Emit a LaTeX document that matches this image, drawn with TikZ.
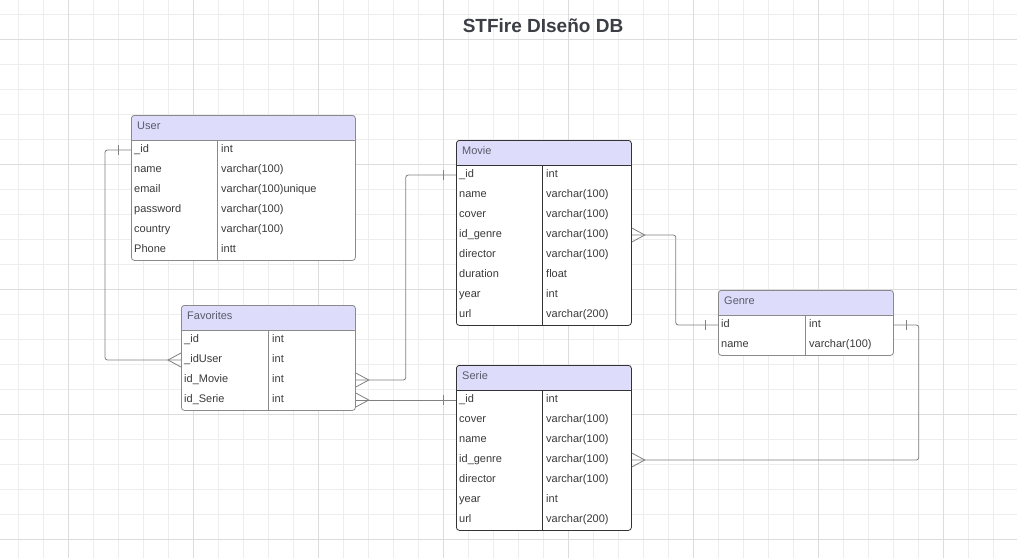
\documentclass[tikz,border=0pt]{standalone}
\usepackage{fontspec}
\setmainfont{Liberation Sans}
\usetikzlibrary{positioning,calc}
\definecolor{gridminor}{HTML}{EDEDED}
\definecolor{gridmajor}{HTML}{DCDCDC}
\definecolor{headbg}{HTML}{DDDDFB}
\definecolor{boxgray}{HTML}{8A8A8A}
\definecolor{boxdark}{HTML}{333333}
\definecolor{linkgray}{HTML}{808080}
\definecolor{fieldtxt}{HTML}{3A3A3A}
\definecolor{headtxt}{HTML}{5A5A6A}
\definecolor{titletxt}{HTML}{3B3E45}

\tikzset{
  tablebox/.style={anchor=north west, inner sep=0pt, rounded corners=3pt, line width=0.8pt, fill=white,
    path picture={\fill[headbg] (path picture bounding box.north west) rectangle ([yshift=-25pt]path picture bounding box.north east);}},
  field/.style={anchor=west, inner sep=0pt, text height=7.5pt, text depth=3.5pt,
    font=\fontsize{11}{13}\selectfont, text=fieldtxt},
  headtext/.style={field, text=headtxt},
  link/.style={draw=linkgray, line width=0.8pt, rounded corners=2.5pt},
  onebar/.pic={\draw[link] (-13,-5) -- (-13,5);},
  crowfoot/.pic={\draw[link, rounded corners=0pt] (0,-7) -- (-13,0) -- (0,7);}
}

\begin{document}
\begin{tikzpicture}[x=1pt, y=-1pt]
  \useasboundingbox (0,0) rectangle (1017,558);
  \fill[white] (0,0) rectangle (1017,558);

  % Background grid
  \foreach \gx in {18.3,43.3,...,1017} \draw[gridminor, line width=0.6pt] (\gx,0) -- (\gx,558);
  \foreach \gy in {14,39,...,558} \draw[gridminor, line width=0.6pt] (0,\gy) -- (1017,\gy);
  \foreach \gx in {68.3,193.3,...,1017} \draw[gridmajor, line width=0.6pt] (\gx,0) -- (\gx,558);
  \foreach \gy in {39,164,...,558} \draw[gridmajor, line width=0.6pt] (0,\gy) -- (1017,\gy);

  % Title
  \node[font=\fontsize{19}{22}\selectfont\bfseries, text=titletxt] (title) at (543,26) {STFire DIseño DB};

  % Table frames
  \foreach \tname/\tx/\ty/\tw/\tdiv/\trows/\tcol in
      {user/131/115/224/86/6/boxgray, fav/181/305/174/87/4/boxgray,
       movie/456/140/175/86/8/boxdark, genre/718/290/175/87/2/boxgray,
       serie/456/365/175/86/7/boxdark} {
    \node[tablebox, draw=\tcol, minimum width=\tw*1pt, minimum height=25pt+20pt*\trows] (\tname) at (\tx,\ty) {};
    \draw[\tcol, line width=0.8pt] (\tx,\ty+25) -- (\tx+\tw,\ty+25)
      (\tx+\tdiv,\ty+25) -- (\tx+\tdiv,\ty+25+20*\trows);
  }

  % User
  \node[headtext] (user-head) at (137,127) {User};
  \foreach \f/\t [count=\k] in {\_id/int, name/varchar(100), email/varchar(100)unique,
      password/varchar(100), country/varchar(100), Phone/intt} {
    \node[field] (user-\k) at (134,130+20*\k) {\f};
    \node[field] (user-t\k) at (221,130+20*\k) {\t};
  }

  % Favorites
  \node[headtext] (fav-head) at (187,317) {Favorites};
  \foreach \f/\t [count=\k] in {\_id/int, \_idUser/int, id\_Movie/int, id\_Serie/int} {
    \node[field] (fav-\k) at (184,320+20*\k) {\f};
    \node[field] (fav-t\k) at (272,320+20*\k) {\t};
  }

  % Movie
  \node[headtext] (movie-head) at (462,152) {Movie};
  \foreach \f/\t [count=\k] in {\_id/int, name/varchar(100), cover/varchar(100), id\_genre/varchar(100),
      director/varchar(100), duration/float, year/int, url/varchar(200)} {
    \node[field] (movie-\k) at (459,155+20*\k) {\f};
    \node[field] (movie-t\k) at (546,155+20*\k) {\t};
  }

  % Genre
  \node[headtext] (genre-head) at (724,302) {Genre};
  \foreach \f/\t [count=\k] in {id/int, name/varchar(100)} {
    \node[field] (genre-\k) at (721,305+20*\k) {\f};
    \node[field] (genre-t\k) at (809,305+20*\k) {\t};
  }

  % Serie
  \node[headtext] (serie-head) at (462,377) {Serie};
  \foreach \f/\t [count=\k] in {\_id/int, cover/varchar(100), name/varchar(100), id\_genre/varchar(100),
      director/varchar(100), year/int, url/varchar(200)} {
    \node[field] (serie-\k) at (459,380+20*\k) {\f};
    \node[field] (serie-t\k) at (546,380+20*\k) {\t};
  }

  % Relations
  \draw[link] (user.west |- user-1) -- ++(-26,0) |- (fav.west |- fav-2);
  \pic at (user.west |- user-1) {onebar};
  \pic at (fav.west |- fav-2) {crowfoot};

  \draw[link] (fav.east |- fav-3) -- ++(50,0) |- (movie.west |- movie-1);
  \pic[xscale=-1] at (fav.east |- fav-3) {crowfoot};
  \pic at (movie.west |- movie-1) {onebar};

  \draw[link] (fav.east |- fav-4) -- (serie.west |- serie-1);
  \pic[xscale=-1] at (fav.east |- fav-4) {crowfoot};
  \pic at (serie.west |- serie-1) {onebar};

  \draw[link] (movie.east |- movie-4) -- ++(44,0) |- (genre.west |- genre-1);
  \pic[xscale=-1] at (movie.east |- movie-4) {crowfoot};
  \pic at (genre.west |- genre-1) {onebar};

  \draw[link] (serie.east |- serie-4) -- ++(287,0) |- (genre.east |- genre-1);
  \pic[xscale=-1] at (serie.east |- serie-4) {crowfoot};
  \pic[xscale=-1] at (genre.east |- genre-1) {onebar};
\end{tikzpicture}
\end{document}
